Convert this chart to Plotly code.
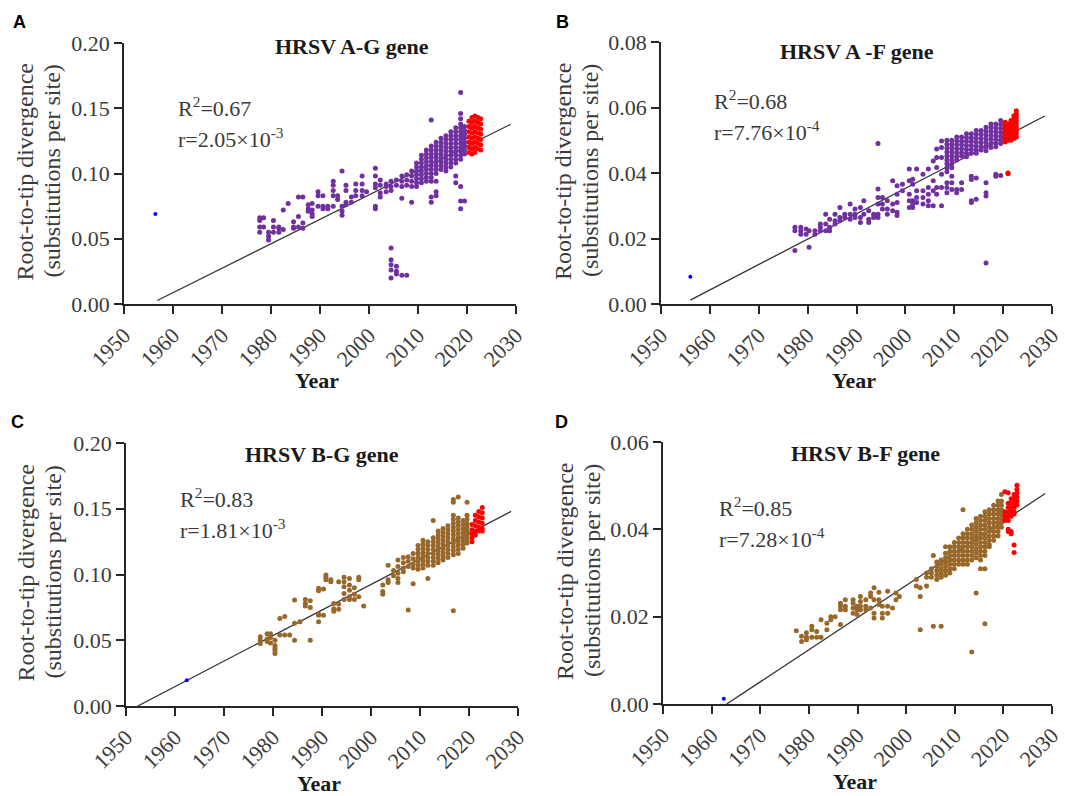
import plotly.graph_objects as go

# ---------------- DATA ----------------
# Panel A: HRSV A-G gene
A_purple_year = [1977.7, 1978.5, 1979.5, 1980.5, 1981.6, 1982.5, 1983.5, 1984.6, 1985.6, 1986.5,
                 1987.6, 1988.4, 1989.6, 1990.6, 1991.6, 1992.7, 1993.6, 1994.5, 1995.3, 1996.4,
                 1997.3, 1998.6, 1999.5, 2001.3, 2002.3, 2003.5, 2004.5, 2005.6, 2006.7, 2007.7,
                 2008.7, 2009.7, 2010.7, 2011.7, 2012.7, 2013.7, 2014.7, 2015.7, 2016.7, 2017.7,
                 2018.7, 2019.5]
A_purple_val = [
    [0.066, 0.064, 0.059, 0.055], [0.066, 0.059], [0.055, 0.052, 0.049], [0.064, 0.059, 0.055],
    [0.059, 0.058, 0.055], [0.072, 0.057], [0.077], [0.063, 0.059, 0.058], [0.082, 0.067, 0.059],
    [0.082, 0.062, 0.058], [0.076, 0.073, 0.071], [0.077, 0.072, 0.069, 0.067], [0.086, 0.083, 0.075],
    [0.083, 0.075, 0.073], [0.075, 0.073], [0.094, 0.091, 0.087, 0.083, 0.075], [0.083, 0.080],
    [0.102, 0.075, 0.071, 0.068], [0.091, 0.087, 0.078, 0.076], [0.082, 0.078], [0.092, 0.087, 0.083],
    [0.098, 0.092, 0.087, 0.083], [0.086], [0.104, 0.098, 0.092, 0.089, 0.075, 0.073],
    [0.095, 0.091, 0.085, 0.082], [0.092, 0.090, 0.086],
    [0.094, 0.090, 0.087, 0.043, 0.034, 0.030, 0.026, 0.020], [0.095, 0.091, 0.029, 0.025, 0.023],
    [0.098, 0.094, 0.090, 0.081, 0.022], [0.099, 0.095, 0.091, 0.022], [0.102, 0.098, 0.094, 0.090, 0.078],
    [0.108, 0.105, 0.102, 0.099, 0.096, 0.093, 0.090],
    [0.114, 0.111, 0.108, 0.105, 0.102, 0.099, 0.096, 0.093],
    [0.118, 0.115, 0.112, 0.109, 0.106, 0.103, 0.100, 0.097, 0.094],
    [0.141, 0.121, 0.118, 0.115, 0.112, 0.109, 0.106, 0.103, 0.100, 0.097, 0.094, 0.082, 0.078],
    [0.124, 0.121, 0.118, 0.115, 0.112, 0.109, 0.106, 0.103, 0.100, 0.094, 0.086, 0.083],
    [0.127, 0.124, 0.121, 0.118, 0.115, 0.112, 0.109, 0.106, 0.103],
    [0.129, 0.126, 0.123, 0.120, 0.117, 0.114, 0.111, 0.108, 0.105, 0.102],
    [0.132, 0.129, 0.126, 0.123, 0.120, 0.117, 0.114, 0.111, 0.108, 0.105],
    [0.135, 0.132, 0.129, 0.126, 0.123, 0.120, 0.117, 0.114, 0.111, 0.108, 0.098, 0.093],
    [0.162, 0.146, 0.142, 0.138, 0.135, 0.132, 0.129, 0.126, 0.123, 0.120, 0.117, 0.114, 0.111,
     0.090, 0.079, 0.073],
    [0.136, 0.133, 0.130, 0.127, 0.124, 0.121, 0.118, 0.115, 0.079],
]
A_red_year = [2020.4, 2021.0, 2021.6, 2022.2, 2022.8]
A_red_val = [
    [0.140, 0.136, 0.132, 0.128, 0.124, 0.120, 0.116],
    [0.143, 0.139, 0.135, 0.131, 0.127, 0.123, 0.119, 0.115],
    [0.144, 0.140, 0.136, 0.132, 0.128, 0.124, 0.120, 0.116],
    [0.143, 0.139, 0.135, 0.131, 0.127, 0.123, 0.119],
    [0.142, 0.138, 0.134, 0.130, 0.126, 0.122, 0.118],
]
A_blue = (1956.4, 0.069)
A_fit_year = [1956.8, 2028.9]
A_fit_val = [0.0027, 0.1377]

# Panel B: HRSV A-F gene
B_purple_year = [1977.4, 1978.6, 1979.7, 1980.3, 1981.5, 1982.6, 1983.7, 1984.5, 1985.6, 1986.6,
                 1987.6, 1988.7, 1989.7, 1990.8, 1991.5, 1992.5, 1993.5, 1994.4, 1995.3, 1996.3,
                 1997.4, 1998.3, 1999.4, 2000.8, 2001.5, 2002.3, 2003.6, 2004.7, 2005.7, 2006.4,
                 2007.4, 2008.5, 2009.5, 2010.5, 2011.5, 2012.5, 2013.5, 2014.5, 2015.5, 2016.5,
                 2017.5, 2018.5, 2019.5]
B_purple_val = [
    [0.0234, 0.0224, 0.0163], [0.0234, 0.0224, 0.0213], [0.0229, 0.0213], [0.0173, 0.0224],
    [0.0224, 0.0213], [0.0244, 0.0234, 0.0224], [0.0274, 0.0244, 0.0224], [0.0259, 0.0234, 0.0224],
    [0.0274, 0.0254, 0.0244], [0.0295, 0.0264, 0.0254], [0.0274, 0.0264], [0.0305, 0.0274, 0.0259],
    [0.0290, 0.0274, 0.0264], [0.0295, 0.0264, 0.0249], [0.0315, 0.0274], [0.0285, 0.0259, 0.0249],
    [0.0274, 0.0264], [0.0490, 0.0351, 0.0325, 0.0305, 0.0274, 0.0264], [0.0325, 0.0305, 0.0290],
    [0.0315, 0.0290, 0.0274], [0.0376, 0.0305, 0.0285], [0.0361, 0.0335, 0.0310, 0.0280, 0.0270],
    [0.0366, 0.0346], [0.0412, 0.0376, 0.0335, 0.0315, 0.0295], [0.0381, 0.0366, 0.0315, 0.0305, 0.0295],
    [0.0412, 0.0346, 0.0325, 0.0310], [0.0396, 0.0346, 0.0325, 0.0305],
    [0.0412, 0.0356, 0.0335, 0.0315, 0.0300], [0.0437, 0.0376, 0.0346, 0.0300],
    [0.0473, 0.0447, 0.0417, 0.0356, 0.0335], [0.0498, 0.0478, 0.0447, 0.0396, 0.0356, 0.0300],
    [0.0500, 0.0488, 0.0476, 0.0464, 0.0452, 0.0440, 0.0428, 0.0416, 0.0404, 0.0370, 0.0356, 0.0340],
    [0.0500, 0.0488, 0.0476, 0.0464, 0.0452, 0.0440, 0.0428, 0.0416, 0.0390, 0.0370, 0.0350],
    [0.0510, 0.0498, 0.0486, 0.0474, 0.0462, 0.0450, 0.0440, 0.0350, 0.0340],
    [0.0510, 0.0498, 0.0486, 0.0474, 0.0462, 0.0452, 0.0370, 0.0350],
    [0.0520, 0.0508, 0.0496, 0.0484, 0.0472, 0.0460, 0.0450],
    [0.0520, 0.0508, 0.0496, 0.0484, 0.0472, 0.0460, 0.0390, 0.0380, 0.0315, 0.0310],
    [0.0530, 0.0518, 0.0506, 0.0494, 0.0482, 0.0470, 0.0460, 0.0385, 0.0320],
    [0.0530, 0.0518, 0.0506, 0.0494, 0.0482, 0.0470],
    [0.0540, 0.0528, 0.0516, 0.0504, 0.0492, 0.0480, 0.0468, 0.0370, 0.0340, 0.0330, 0.0125],
    [0.0550, 0.0538, 0.0526, 0.0514, 0.0502, 0.0490, 0.0478],
    [0.0550, 0.0538, 0.0526, 0.0514, 0.0502, 0.0490, 0.0480, 0.0396, 0.0390],
    [0.0560, 0.0548, 0.0536, 0.0524, 0.0512, 0.0500, 0.0490, 0.0392],
]
B_red_year = [2020.4, 2021.0, 2021.6, 2022.2, 2022.7]
B_red_val = [
    [0.0555, 0.0545, 0.0535, 0.0525, 0.0515, 0.0505, 0.0495],
    [0.0550, 0.0540, 0.0530, 0.0520, 0.0510, 0.0500, 0.0400, 0.0398],
    [0.0560, 0.0550, 0.0540, 0.0530, 0.0520, 0.0510, 0.0500],
    [0.0575, 0.0565, 0.0555, 0.0545, 0.0535, 0.0525, 0.0515, 0.0505],
    [0.0590, 0.0580, 0.0570, 0.0560, 0.0550, 0.0540, 0.0530, 0.0520, 0.0510],
]
B_blue = (1956.0, 0.0083)
B_fit_year = [1956.0, 2028.5]
B_fit_val = [0.0012, 0.0574]

# Panel C: HRSV B-G gene
C_brown_year = [1977.4, 1978.8, 1979.5, 1980.4, 1981.4, 1982.4, 1983.4, 1984.4, 1985.5, 1986.6,
                1987.6, 1989.3, 1990.3, 1990.8, 1991.8, 1992.4, 1993.4, 1994.5, 1995.6, 1996.6,
                1997.5, 1998.5, 2002.4, 2003.5, 2004.6, 2005.5, 2006.6, 2007.6, 2008.6, 2009.6,
                2010.6, 2011.6, 2012.7, 2013.7, 2014.7, 2015.7, 2016.8, 2017.8, 2018.8, 2019.6]
C_brown_val = [
    [0.0526, 0.050, 0.0475], [0.055, 0.051, 0.049], [0.055, 0.052, 0.048],
    [0.050, 0.046, 0.044, 0.042, 0.040], [0.0666, 0.054], [0.068, 0.054], [0.054],
    [0.0806, 0.063, 0.050], [0.064], [0.081, 0.078, 0.076], [0.080, 0.075, 0.050],
    [0.0895, 0.0877, 0.070, 0.069, 0.064], [0.089, 0.069], [0.0996, 0.098, 0.096], [0.096, 0.0945],
    [0.078, 0.074, 0.072], [0.0945, 0.0775, 0.0735], [0.098, 0.0945, 0.0907, 0.0856, 0.081],
    [0.097, 0.092, 0.088, 0.083, 0.081], [0.090, 0.085, 0.081], [0.098, 0.096, 0.083], [0.076],
    [0.092, 0.087, 0.085], [0.107, 0.096, 0.094], [0.103, 0.099], [0.111, 0.106, 0.101, 0.097, 0.094],
    [0.113, 0.109, 0.105, 0.102], [0.1135, 0.110, 0.106, 0.073], [0.116, 0.112, 0.108, 0.105, 0.093],
    [0.122, 0.119, 0.116, 0.113, 0.110, 0.107, 0.104],
    [0.126, 0.123, 0.120, 0.117, 0.114, 0.111, 0.108, 0.105],
    [0.125, 0.122, 0.119, 0.116, 0.113, 0.110, 0.107, 0.097],
    [0.141, 0.128, 0.125, 0.122, 0.119, 0.116, 0.113, 0.110, 0.107],
    [0.133, 0.130, 0.127, 0.124, 0.121, 0.118, 0.115, 0.112, 0.109],
    [0.135, 0.132, 0.129, 0.126, 0.123, 0.120, 0.117, 0.114, 0.111],
    [0.137, 0.134, 0.131, 0.128, 0.125, 0.122, 0.119, 0.116, 0.113],
    [0.157, 0.155, 0.145, 0.142, 0.139, 0.136, 0.133, 0.130, 0.127, 0.124, 0.121, 0.118, 0.115, 0.0725],
    [0.159, 0.143, 0.140, 0.137, 0.134, 0.131, 0.128, 0.125, 0.122, 0.119, 0.116],
    [0.141, 0.138, 0.135, 0.132, 0.129, 0.126, 0.123, 0.120],
    [0.155, 0.145, 0.142, 0.139, 0.136, 0.133, 0.130, 0.127, 0.124],
]
C_red_year = [2020.6, 2021.3, 2022.0, 2022.7]
C_red_val = [
    [0.138, 0.134, 0.131, 0.128, 0.125],
    [0.145, 0.141, 0.137, 0.133, 0.130],
    [0.148, 0.144, 0.140, 0.136, 0.133],
    [0.151, 0.147, 0.143, 0.139, 0.135, 0.133],
]
C_blue = (1962.4, 0.0196)
C_fit_year = [1952.4, 2028.6]
C_fit_val = [0.0, 0.148]

# Panel D: HRSV B-F gene
D_brown_year = [1977.4, 1978.5, 1979.5, 1980.6, 1981.6, 1982.5, 1983.7, 1984.5, 1985.4, 1986.5,
                1987.5, 1989.1, 1989.9, 1990.6, 1991.7, 1992.7, 1993.4, 1994.4, 1995.1, 1996.2,
                1997.2, 1997.9, 1998.6, 2002.1, 2002.9, 2004.2, 2005.2, 2005.6, 2006.3, 2007.2,
                2008.1, 2009.0, 2009.9, 2010.8, 2011.7, 2012.6, 2013.5, 2014.4, 2015.3, 2016.2,
                2017.1, 2018.0, 2018.9, 2019.6]
D_brown_val = [
    [0.0168], [0.0155, 0.0143], [0.0163, 0.0153, 0.0147], [0.0178, 0.0170, 0.0153], [0.0166, 0.0153],
    [0.0193, 0.0153], [0.0185, 0.0170], [0.0200, 0.0193], [0.0200], [0.0231, 0.0224, 0.0216, 0.0182],
    [0.0239, 0.0224, 0.0216], [0.0239, 0.0231, 0.0220, 0.0208], [0.0224, 0.0216, 0.0205],
    [0.0246, 0.0235, 0.0224, 0.0216], [0.0239, 0.0224, 0.0216], [0.0254, 0.0246, 0.0220],
    [0.0266, 0.0239, 0.0208, 0.0197], [0.0256, 0.0239, 0.0228], [0.0224, 0.0208, 0.0197],
    [0.0258, 0.0224, 0.0208], [0.0220], [0.0254, 0.0239], [0.0246], [0.0285, 0.0270],
    [0.0266, 0.0246, 0.0170], [0.0300, 0.0290, 0.0270], [0.0310, 0.0300, 0.0290], [0.0340, 0.0178],
    [0.0325, 0.0315, 0.0305, 0.0295, 0.0285], [0.0330, 0.0320, 0.0310, 0.0300, 0.0290, 0.0178],
    [0.0360, 0.0345, 0.0335, 0.0325, 0.0315, 0.0305, 0.0295],
    [0.0360, 0.0350, 0.0340, 0.0330, 0.0320, 0.0310, 0.0300],
    [0.0370, 0.0360, 0.0350, 0.0340, 0.0330, 0.0320, 0.0310],
    [0.0380, 0.0370, 0.0360, 0.0350, 0.0340, 0.0330, 0.0320],
    [0.0445, 0.0390, 0.0380, 0.0370, 0.0360, 0.0350, 0.0340, 0.0330, 0.0320],
    [0.0400, 0.0390, 0.0380, 0.0370, 0.0360, 0.0350, 0.0340, 0.0330, 0.0320],
    [0.0410, 0.0400, 0.0390, 0.0380, 0.0370, 0.0360, 0.0350, 0.0340, 0.0330, 0.0119],
    [0.0425, 0.0415, 0.0405, 0.0395, 0.0385, 0.0375, 0.0365, 0.0355, 0.0345, 0.0335, 0.0254],
    [0.0430, 0.0420, 0.0410, 0.0400, 0.0390, 0.0380, 0.0370, 0.0360, 0.0350, 0.0340, 0.0330, 0.0310],
    [0.0440, 0.0430, 0.0420, 0.0410, 0.0400, 0.0390, 0.0380, 0.0370, 0.0360, 0.0350, 0.0340, 0.0310,
     0.0184],
    [0.0445, 0.0435, 0.0425, 0.0415, 0.0405, 0.0395, 0.0385, 0.0375, 0.0365, 0.0360],
    [0.0455, 0.0445, 0.0435, 0.0425, 0.0415, 0.0405, 0.0395, 0.0385, 0.0375],
    [0.0465, 0.0455, 0.0445, 0.0435, 0.0425, 0.0415, 0.0405, 0.0395, 0.0385],
    [0.0480, 0.0465, 0.0455, 0.0445, 0.0435, 0.0425, 0.0415, 0.0405],
]
D_red_year = [2020.3, 2021.0, 2021.6, 2022.2, 2022.8]
D_red_val = [
    [0.0486, 0.0440, 0.0430, 0.0420],
    [0.0484, 0.0460, 0.0450, 0.0440, 0.0430, 0.0420, 0.0400, 0.0395],
    [0.0470, 0.0460, 0.0450, 0.0440, 0.0430, 0.0395, 0.0390],
    [0.0480, 0.0470, 0.0460, 0.0450, 0.0440, 0.0435, 0.0364, 0.0347],
    [0.0501, 0.0492, 0.0483, 0.0474, 0.0465, 0.0456],
]
D_blue = (1962.5, 0.0012)
D_fit_year = [1963.1, 2028.6]
D_fit_val = [0.0, 0.0482]

titles = ["HRSV A-G gene", "HRSV A -F gene", "HRSV B-G gene", "HRSV B-F gene"]
r2_text = ["R<sup>2</sup>=0.67", "R<sup>2</sup>=0.68", "R<sup>2</sup>=0.83", "R<sup>2</sup>=0.85"]
rate_text = ["r=2.05×10<sup>-3</sup>", "r=7.76×10<sup>-4</sup>", "r=1.81×10<sup>-3</sup>",
             "r=7.28×10<sup>-4</sup>"]
letters = ["A", "B", "C", "D"]
ytitle_lines = ["Root-to-tip divergence", "(substitutions per site)"]
y_ranges = [[0, 0.20], [0, 0.08], [0, 0.20], [0, 0.06]]
y_dticks = [0.05, 0.02, 0.05, 0.02]
x_tick_years = [1950, 1960, 1970, 1980, 1990, 2000, 2010, 2020, 2030]

# ---------------- LAYOUT (pixels) ----------------
W, H = 1065, 796
# plot boxes: (x0, x1, ytop, ybottom) in pixels
boxes = [(124, 516, 43, 304), (661, 1052, 42, 304), (126, 518, 443, 706), (663, 1052, 442, 704)]

PURPLE = "#7030A0"
BROWN = "#98672A"
RED = "#FF0000"
BLUE = "#0000FF"
AXC = "#262626"
TXT = "#3a3a3a"
SERIF = '"Liberation Serif", "Times New Roman", serif'
FS = 22


def flat(years, vals):
    xs, ys = [], []
    for yr, vs in zip(years, vals):
        for v in vs:
            xs.append(yr)
            ys.append(v)
    return xs, ys


def px(x):
    return x / W


def py(y):
    return 1 - y / H


panels = [
    (A_purple_year, A_purple_val, PURPLE, A_red_year, A_red_val, A_blue, A_fit_year, A_fit_val),
    (B_purple_year, B_purple_val, PURPLE, B_red_year, B_red_val, B_blue, B_fit_year, B_fit_val),
    (C_brown_year, C_brown_val, BROWN, C_red_year, C_red_val, C_blue, C_fit_year, C_fit_val),
    (D_brown_year, D_brown_val, BROWN, D_red_year, D_red_val, D_blue, D_fit_year, D_fit_val),
]

fig = go.Figure()
layout = dict(width=W, height=H, autosize=False,
              margin=dict(l=0, r=0, t=0, b=0, pad=0, autoexpand=False),
              paper_bgcolor="white", plot_bgcolor="white", showlegend=False,
              font=dict(family=SERIF, color=TXT, size=FS))
annotations = []

for i, (my, mv, mc, ry, rv, blue, fy, fv) in enumerate(panels):
    n = "" if i == 0 else str(i + 1)
    xa, ya = "x" + n, "y" + n
    x0, x1, yt, yb = boxes[i]

    fig.add_trace(go.Scatter(x=fy, y=fv, mode="lines", xaxis=xa, yaxis=ya,
                             line=dict(color="#333333", width=1.3), hoverinfo="skip"))
    mx, myv = flat(my, mv)
    fig.add_trace(go.Scatter(x=mx, y=myv, mode="markers", xaxis=xa, yaxis=ya,
                             marker=dict(color=mc, size=5, line=dict(width=0))))
    rx, ryv = flat(ry, rv)
    fig.add_trace(go.Scatter(x=rx, y=ryv, mode="markers", xaxis=xa, yaxis=ya,
                             marker=dict(color=RED, size=5, line=dict(width=0))))
    fig.add_trace(go.Scatter(x=[blue[0]], y=[blue[1]], mode="markers", xaxis=xa, yaxis=ya,
                             marker=dict(color=BLUE, size=4, line=dict(width=0))))

    axis_common = dict(showline=True, linecolor=AXC, linewidth=1.5, ticks="outside",
                       ticklen=8, tickwidth=1.5, tickcolor=AXC, showgrid=False, zeroline=False,
                       automargin=False,
                       tickfont=dict(family=SERIF, size=FS, color=TXT))
    layout["xaxis" + n] = dict(axis_common, domain=[px(x0), px(x1)], anchor=ya,
                               range=[x_tick_years[0], x_tick_years[-1]],
                               tickvals=x_tick_years, ticktext=[str(t) for t in x_tick_years],
                               tickangle=-45)
    layout["yaxis" + n] = dict(axis_common, domain=[py(yb), py(yt)], anchor=xa,
                               range=y_ranges[i], dtick=y_dticks[i], tick0=0, tickformat=".2f")

    cx = (x0 + x1) / 2
    # panel title
    annotations.append(dict(text="<b>" + titles[i] + "</b>", xref="paper", yref="paper",
                            x=px([352, 857, 322, 865][i]), y=py([47, 52, 455, 453][i]),
                            showarrow=False, xanchor="center", yanchor="middle",
                            font=dict(family=SERIF, size=FS, color="#1a1a1a")))
    # R2 and rate
    lx = [176, 712, 178, 717][i]
    ry2 = [107, 100, 498, 507][i]
    annotations.append(dict(text=r2_text[i], xref="paper", yref="paper", x=px(lx), y=py(ry2),
                            showarrow=False, xanchor="left", yanchor="middle",
                            font=dict(family=SERIF, size=FS, color=TXT)))
    annotations.append(dict(text=rate_text[i], xref="paper", yref="paper", x=px(lx), y=py(ry2 + 31),
                            showarrow=False, xanchor="left", yanchor="middle",
                            font=dict(family=SERIF, size=FS, color=TXT)))
    # y title (two rotated lines)
    tx = [25, 563, 25, 565][i]
    for k, line in enumerate(ytitle_lines):
        annotations.append(dict(text=line, xref="paper", yref="paper",
                                x=px(tx + 27 * k), y=py((yt + yb) / 2 - 2),
                                showarrow=False, textangle=-90, xanchor="center", yanchor="middle",
                                font=dict(family=SERIF, size=24, color=TXT)))
    # x title
    annotations.append(dict(text="<b>Year</b>", xref="paper", yref="paper",
                            x=px(cx - 3), y=py(yb + 77), showarrow=False,
                            xanchor="center", yanchor="middle",
                            font=dict(family=SERIF, size=FS, color="#1a1a1a")))
    # panel letter
    annotations.append(dict(text="<b>" + letters[i] + "</b>", xref="paper", yref="paper",
                            x=px([19, 562, 17, 561][i]), y=py([22, 22, 422, 422][i]),
                            showarrow=False, xanchor="center", yanchor="middle",
                            font=dict(family="Liberation Sans, Arial, sans-serif", size=18,
                                      color="#000000")))

layout["annotations"] = annotations
fig.update_layout(**layout)
fig.write_html("out.html", config={"displayModeBar": False},
               post_script="document.body.style.margin='0px';")
